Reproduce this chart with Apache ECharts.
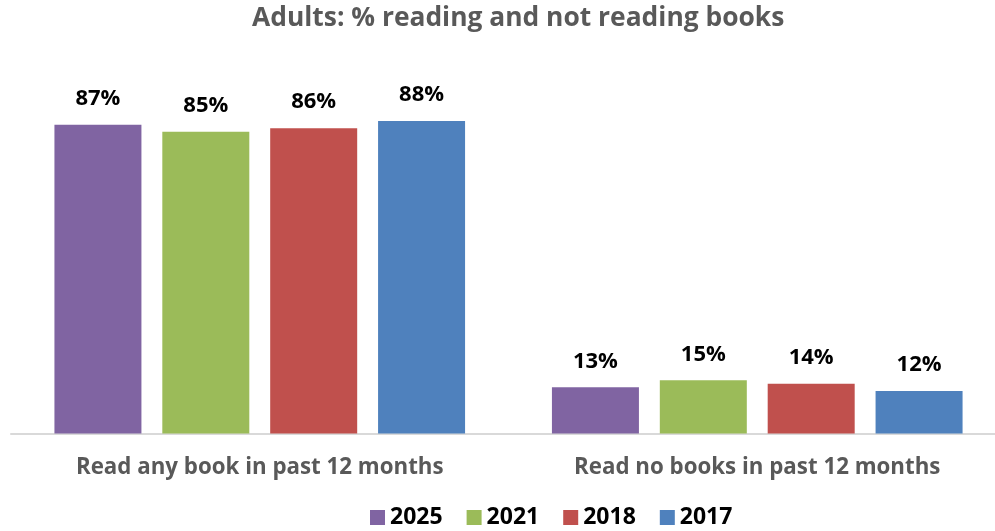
<!DOCTYPE html>
<html>
<head>
<meta charset="utf-8">
<script src="https://cdn.jsdelivr.net/npm/echarts@6/dist/echarts.min.js"></script>
<style>
  html, body { margin: 0; padding: 0; background: #ffffff; }
  #chart { width: 995px; height: 531px; }
</style>
</head>
<body>
<div id="chart"></div>
<script>
// Share of adults reading / not reading books, by survey year
const categories = ['Read any book in past 12 months', 'Read no books in past 12 months'];
const years = ['2025', '2021', '2018', '2017'];
const values2025 = [87, 13];
const values2021 = [85, 15];
const values2018 = [86, 14];
const values2017 = [88, 12];
const seriesValues = [values2025, values2021, values2018, values2017];
const colors = ['#8064A2', '#9BBB59', '#C0504D', '#4F81BD'];

const FONT = '"Open Sans", "Liberation Sans", Arial, sans-serif';

const chart = echarts.init(document.getElementById('chart'), null, { renderer: 'canvas' });

chart.setOption({
  backgroundColor: '#ffffff',
  animation: false,
  title: {
    text: 'Adults: % reading and not reading books',
    left: 252,
    top: 0,
    padding: [5, 0, 5, 0],
    textStyle: { fontFamily: FONT, fontSize: 26.4, fontWeight: 'bold', color: '#595959' }
  },
  legend: {
    data: years,
    left: 370,
    top: 506,
    padding: 0,
    itemWidth: 15,
    itemHeight: 15,
    itemGap: 24,
    icon: 'rect',
    textStyle: { fontFamily: FONT, fontSize: 23, fontWeight: 'bold', color: '#000000' }
  },
  grid: { left: 11, width: 995, top: 78.5, bottom: 97.5, containLabel: false, outerBoundsMode: 'none' },
  xAxis: {
    type: 'category',
    data: categories,
    axisTick: { show: false },
    axisLine: { show: true, lineStyle: { color: '#d9d9d9', width: 2 } },
    axisLabel: {
      margin: 23,
      fontFamily: FONT, fontSize: 22.3, fontWeight: 'bold', color: '#595959'
    }
  },
  yAxis: {
    type: 'value',
    min: 0, max: 100,
    show: false,
    splitLine: { show: false }
  },
  series: years.map((y, i) => ({
    name: y,
    type: 'bar',
    data: seriesValues[i],
    barWidth: 87,
    barGap: '24%',
    itemStyle: { color: colors[i] },
    label: {
      show: true,
      position: 'top',
      distance: 15,
      formatter: p => p.value + '%',
      fontFamily: FONT, fontSize: 22, fontWeight: 'bold', color: '#000000'
    }
  }))
});
</script>
</body>
</html>
